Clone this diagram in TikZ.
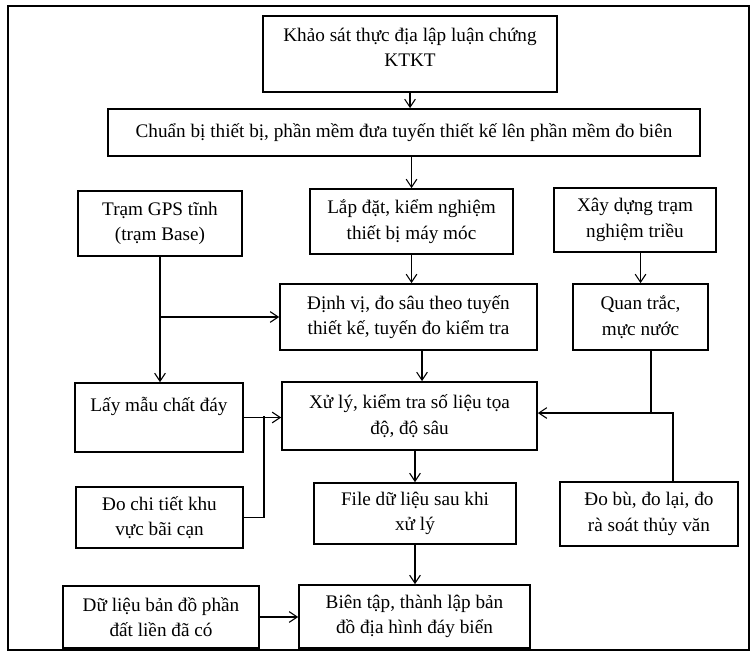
\documentclass[tikz,border=0pt]{standalone}
\usepackage{fontspec}
\setmainfont{Liberation Serif}
\usetikzlibrary{arrows.meta,calc}
\begin{document}
\begin{tikzpicture}[x=0.75pt,y=-0.75pt,
  box/.style={draw,line width=1.3pt,align=center,inner sep=1pt,font=\fontsize{14.4}{19}\selectfont},
  conn/.style={line width=0.8pt},
  arr/.style={conn,-{Straight Barb[length=6pt,width=8pt,line width=0.8pt]}}]
\useasboundingbox (0,0) rectangle (755,652);
\draw[line width=0.8pt] (8,6) rectangle (749,650);
\node[box,minimum width=294*0.75pt,minimum height=76*0.75pt] (k1) at (410,54) {Khảo sát thực địa lập luận chứng\\KTKT\\[-9pt]\mbox{}};
\node[box,minimum width=592*0.75pt,minimum height=47*0.75pt] (k2) at (404,132.5) {Chuẩn bị thiết bị, phần mềm đưa tuyến thiết kế lên phần mềm đo biên};
\node[box,minimum width=164*0.75pt,minimum height=65*0.75pt] (gps) at (160,223.5) {Trạm GPS tĩnh\\(trạm Base)};
\node[box,minimum width=203*0.75pt,minimum height=65*0.75pt] (lap) at (411.5,221.5) {Lắp đặt, kiểm nghiệm\\thiết bị máy móc};
\node[box,minimum width=162*0.75pt,minimum height=64*0.75pt] (xay) at (635,220) {Xây dựng trạm\\nghiệm triều};
\node[box,minimum width=257*0.75pt,minimum height=66*0.75pt] (dinh) at (408.5,317) {Định vị, đo sâu theo tuyến\\thiết kế, tuyến đo kiểm tra};
\node[box,minimum width=135*0.75pt,minimum height=66*0.75pt] (quan) at (640.5,317) {Quan trắc,\\mực nước};
\node[box,minimum width=168*0.75pt,minimum height=69*0.75pt] (lay) at (159,417.5) {Lấy mẫu chất đáy\\\mbox{}};
\node[box,minimum width=255*0.75pt,minimum height=68*0.75pt] (xuly) at (409.5,416) {Xử lý, kiểm tra số liệu tọa\\độ, độ sâu};
\node[box,minimum width=167*0.75pt,minimum height=61*0.75pt] (dochi) at (159.5,517.5) {Đo chi tiết khu\\vực bãi cạn};
\node[box,minimum width=202*0.75pt,minimum height=61*0.75pt] (file) at (415,513.5) {File dữ liệu sau khi\\xử lý};
\node[box,minimum width=178*0.75pt,minimum height=64*0.75pt] (dobu) at (649,514) {Đo bù, đo lại, đo\\rà soát thủy văn};
\node[box,minimum width=196*0.75pt,minimum height=62*0.75pt] (dulieu) at (161,617) {Dữ liệu bản đồ phần\\đất liền đã có};
\node[box,minimum width=231*0.75pt,minimum height=63*0.75pt] (bien) at (414.5,616.5) {Biên tập, thành lập bản\\đồ địa hình đáy biển};
\coordinate (j1) at (651,413);
\coordinate (j2) at (673,413);
\coordinate (j3) at (264,416);
\coordinate (d1) at (422,350);
\draw[arr] (k1.south) -- (k1.south |- k2.north);
\draw[arr] (lap.north |- k2.south) -- (lap.north);
\draw[arr] (lap.south) -- (lap.south |- dinh.north);
\draw[arr] (gps.south) -- (gps.south |- lay.north);
\draw[arr] (gps.south |- dinh.west) -- (dinh.west);
\draw[arr] (quan.north |- xay.south) -- (quan.north);
\draw[conn] (j1 |- quan.south) -- (j1);
\draw[arr] (j2 |- dobu.north) -- (j2) -- (j2 -| xuly.east);
\draw[arr] (d1 |- dinh.south) -- (d1 |- xuly.north);
\draw[arr] (lay.east) -- (lay.east -| xuly.west);
\draw[conn] (dochi.east) -- (dochi.east -| j3) -- (j3);
\draw[arr] (file.north |- xuly.south) -- (file.north);
\draw[arr] (file.south) -- (file.south |- bien.north);
\draw[arr] (dulieu.east) -- (dulieu.east -| bien.west);
\end{tikzpicture}
\end{document}
